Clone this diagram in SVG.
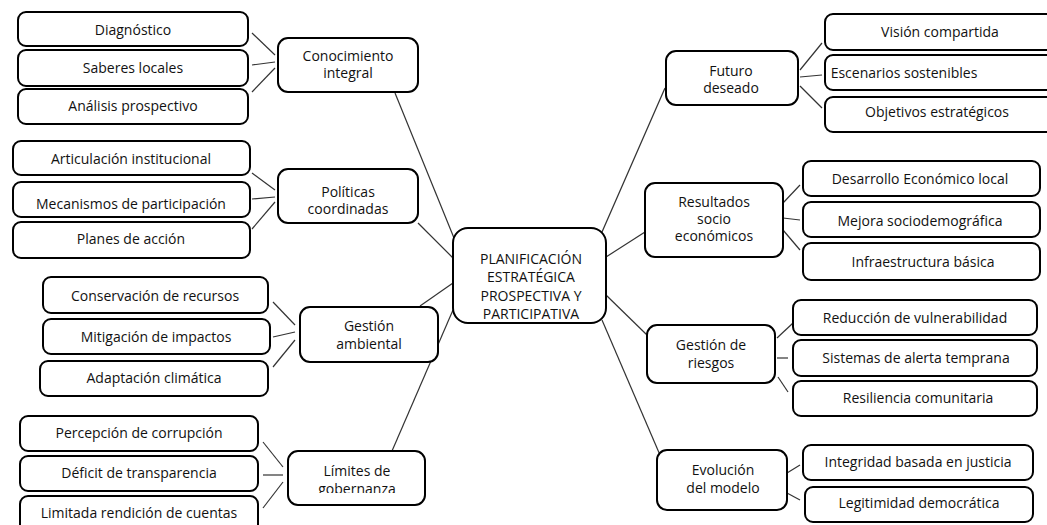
<svg xmlns="http://www.w3.org/2000/svg" width="1047" height="525" viewBox="0 0 1047 525">
<style>
.b{fill:#fff;stroke:#000;stroke-width:2}
.t{font-family:"Open Sans","Liberation Sans",sans-serif;font-size:14px;fill:#111;text-anchor:middle}
.c{font-size:14px}
.k{stroke:#333;stroke-width:1.2;fill:none}
</style>
<defs>
<clipPath id="clipLim"><rect x="288" y="451" width="137" height="42"/></clipPath>
</defs>
<rect width="1047" height="525" fill="#fff"/>
<g id="connectors">
<line class="k" x1="252" y1="33" x2="275" y2="55"/>
<line class="k" x1="252" y1="65" x2="275" y2="62"/>
<line class="k" x1="252" y1="92" x2="275" y2="68"/>
<line class="k" x1="395" y1="93" x2="454" y2="238"/>
<line class="k" x1="252" y1="173" x2="275" y2="190"/>
<line class="k" x1="252" y1="199" x2="275" y2="197"/>
<line class="k" x1="252" y1="229" x2="275" y2="202"/>
<line class="k" x1="418" y1="223" x2="453" y2="258"/>
<line class="k" x1="273" y1="302" x2="295" y2="325"/>
<line class="k" x1="273" y1="337" x2="295" y2="332"/>
<line class="k" x1="273" y1="367" x2="295" y2="340"/>
<line class="k" x1="420" y1="306" x2="453" y2="283"/>
<line class="k" x1="392" y1="451" x2="453" y2="310"/>
<line class="k" x1="263" y1="442" x2="283" y2="467"/>
<line class="k" x1="263" y1="475" x2="283" y2="475"/>
<line class="k" x1="263" y1="508" x2="283" y2="482"/>
<line class="k" x1="665" y1="88" x2="602" y2="232"/>
<line class="k" x1="800" y1="70" x2="822" y2="43"/>
<line class="k" x1="800" y1="77" x2="822" y2="75"/>
<line class="k" x1="800" y1="86" x2="822" y2="108"/>
<line class="k" x1="645" y1="232" x2="606" y2="257"/>
<line class="k" x1="783" y1="203" x2="800" y2="185"/>
<line class="k" x1="783" y1="218" x2="800" y2="220"/>
<line class="k" x1="783" y1="230" x2="800" y2="250"/>
<line class="k" x1="606" y1="295" x2="647" y2="335"/>
<line class="k" x1="777" y1="338" x2="793" y2="323"/>
<line class="k" x1="777" y1="358" x2="788" y2="358"/>
<line class="k" x1="778" y1="377" x2="788" y2="392"/>
<line class="k" x1="602" y1="320" x2="660" y2="455"/>
<line class="k" x1="787" y1="473" x2="800" y2="465"/>
<line class="k" x1="787" y1="493" x2="800" y2="500"/>
</g>
<g id="center"><rect class="b" x="453" y="228" width="153" height="95" rx="15"/>
<text class="t c" x="531" y="264">PLANIFICACIÓN</text><text class="t c" x="531" y="282">ESTRATÉGICA</text><text class="t c" x="531" y="301">PROSPECTIVA Y</text><text class="t c" x="531" y="319">PARTICIPATIVA</text></g>
<g id="n-diagnostico"><rect class="b" x="18" y="12" width="230" height="34" rx="8"/><text class="t" x="133" y="35">Diagnóstico</text></g>
<g id="n-saberes"><rect class="b" x="18" y="50" width="230" height="36" rx="8"/><text class="t" x="133" y="73">Saberes locales</text></g>
<g id="n-analisis"><rect class="b" x="18" y="89" width="230" height="35" rx="8"/><text class="t" x="133" y="111">Análisis prospectivo</text></g>
<g id="n-conocimiento"><rect class="b" x="278" y="38" width="140" height="54" rx="10"/><text class="t" x="348" y="61">Conocimiento</text><text class="t" x="348" y="78">integral</text></g>
<g id="n-articulacion"><rect class="b" x="13" y="141" width="237" height="34" rx="8"/><text class="t" x="131" y="164">Articulación institucional</text></g>
<g id="n-mecanismos"><rect class="b" x="13" y="182" width="237" height="35" rx="8"/><text class="t" x="131" y="209">Mecanismos de participación</text></g>
<g id="n-planes"><rect class="b" x="13" y="222" width="237" height="36" rx="8"/><text class="t" x="131" y="244">Planes de acción</text></g>
<g id="n-politicas"><rect class="b" x="278" y="169" width="140" height="54" rx="10"/><text class="t" x="348" y="197">Políticas</text><text class="t" x="348" y="214">coordinadas</text></g>
<g id="n-conservacion"><rect class="b" x="43" y="277" width="225" height="36" rx="8"/><text class="t" x="155" y="301">Conservación de recursos</text></g>
<g id="n-mitigacion"><rect class="b" x="43" y="319" width="227" height="35" rx="8"/><text class="t" x="156" y="342">Mitigación de impactos</text></g>
<g id="n-adaptacion"><rect class="b" x="40" y="361" width="228" height="35" rx="8"/><text class="t" x="154" y="383">Adaptación climática</text></g>
<g id="n-gestion-ambiental"><rect class="b" x="300" y="307" width="138" height="55" rx="10"/><text class="t" x="369" y="331">Gestión</text><text class="t" x="369" y="349">ambiental</text></g>
<g id="n-percepcion"><rect class="b" x="20" y="416" width="238" height="35" rx="8"/><text class="t" x="139" y="438">Percepción de corrupción</text></g>
<g id="n-deficit"><rect class="b" x="20" y="456" width="238" height="35" rx="8"/><text class="t" x="139" y="478">Déficit de transparencia</text></g>
<g id="n-limitada"><rect class="b" x="20" y="496" width="238" height="40" rx="8"/><text class="t" x="139" y="518">Limitada rendición de cuentas</text></g>
<g id="n-limites"><rect class="b" x="288" y="451" width="137" height="54" rx="10"/><g clip-path="url(#clipLim)"><text class="t" x="357" y="476">Límites de</text><text class="t" x="357" y="494">gobernanza</text></g></g>
<g id="n-futuro"><rect class="b" x="666" y="51" width="132" height="54" rx="10"/><text class="t" x="731" y="76">Futuro</text><text class="t" x="731" y="93">deseado</text></g>
<g id="n-vision"><rect class="b" x="825" y="14" width="232" height="36" rx="8"/><text class="t" x="940" y="37">Visión compartida</text></g>
<g id="n-escenarios"><rect class="b" x="825" y="55" width="232" height="35" rx="8"/><text class="t" x="904" y="78">Escenarios sostenibles</text></g>
<g id="n-objetivos"><rect class="b" x="825" y="97" width="232" height="35" rx="8"/><text class="t" x="937" y="117">Objetivos estratégicos</text></g>
<g id="n-resultados"><rect class="b" x="645" y="183" width="138" height="74" rx="10"/><text class="t" x="714" y="207">Resultados</text><text class="t" x="714" y="224">socio</text><text class="t" x="714" y="241">económicos</text></g>
<g id="n-desarrollo"><rect class="b" x="803" y="161" width="237" height="35" rx="8"/><text class="t" x="920" y="184">Desarrollo Económico local</text></g>
<g id="n-mejora"><rect class="b" x="803" y="202" width="237" height="35" rx="8"/><text class="t" x="920" y="226">Mejora sociodemográfica</text></g>
<g id="n-infraestructura"><rect class="b" x="803" y="243" width="237" height="37" rx="8"/><text class="t" x="923" y="267">Infraestructura básica</text></g>
<g id="n-riesgos"><rect class="b" x="647" y="325" width="128" height="58" rx="10"/><text class="t" x="711" y="350">Gestión de</text><text class="t" x="711" y="368">riesgos</text></g>
<g id="n-reduccion"><rect class="b" x="793" y="300" width="244" height="35" rx="8"/><text class="t" x="915" y="323">Reducción de vulnerabilidad</text></g>
<g id="n-sistemas"><rect class="b" x="793" y="340" width="244" height="36" rx="8"/><text class="t" x="916" y="363">Sistemas de alerta temprana</text></g>
<g id="n-resiliencia"><rect class="b" x="793" y="381" width="244" height="35" rx="8"/><text class="t" x="918" y="403">Resiliencia comunitaria</text></g>
<g id="n-evolucion"><rect class="b" x="657" y="450" width="130" height="60" rx="10"/><text class="t" x="723" y="475">Evolución</text><text class="t" x="723" y="493">del modelo</text></g>
<g id="n-integridad"><rect class="b" x="803" y="445" width="230" height="35" rx="8"/><text class="t" x="918" y="467">Integridad basada en justicia</text></g>
<g id="n-legitimidad"><rect class="b" x="805" y="487" width="228" height="35" rx="8"/><text class="t" x="919" y="508">Legitimidad democrática</text></g>
</svg>
